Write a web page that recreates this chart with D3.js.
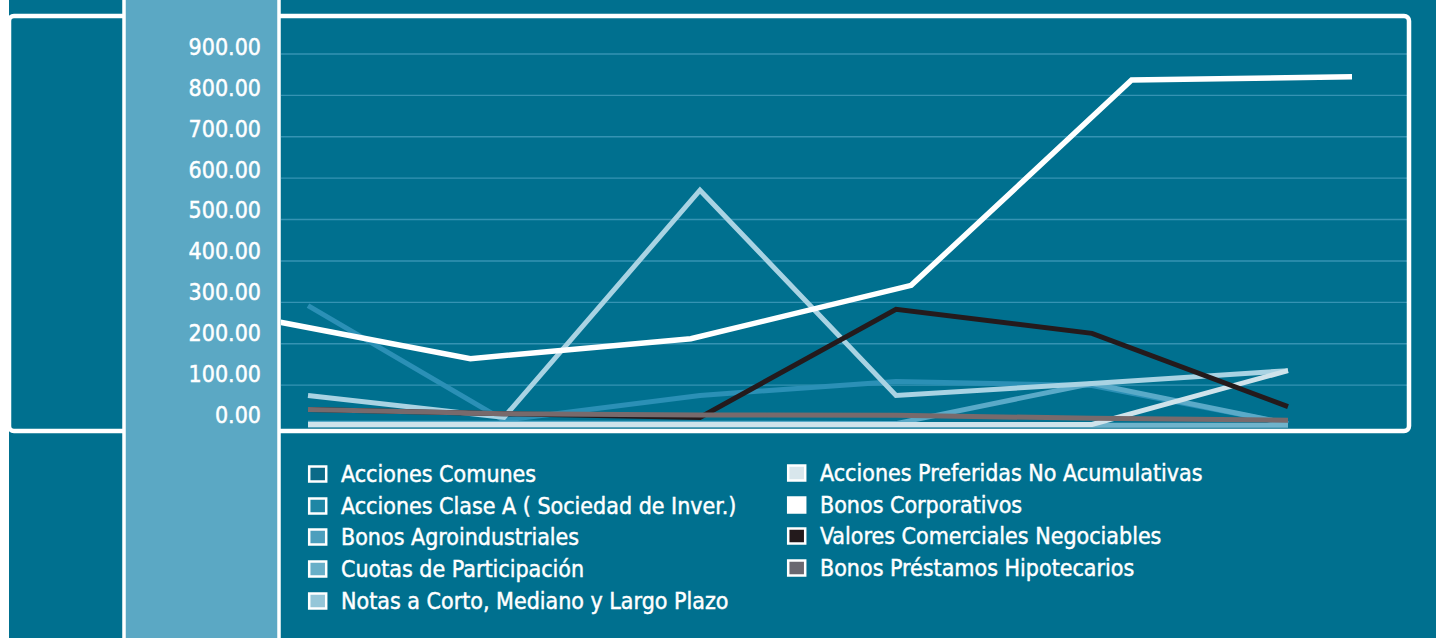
<!DOCTYPE html>
<html>
<head>
<meta charset="utf-8">
<script src="https://cdn.jsdelivr.net/npm/d3@7/dist/d3.min.js"></script>
<style>
  html, body { margin: 0; padding: 0; background: #ffffff; overflow: hidden; }
  text { font-family: "DejaVu Sans Condensed", "DejaVu Sans", sans-serif; fill: #ffffff; }
</style>
</head>
<body>
<svg id="chart" width="1436" height="638"></svg>
<script>
// ---------- DATA ----------
const periods = ["P1", "P2", "P3", "P4", "P5", "P6"];
const yTickValues = [0, 100, 200, 300, 400, 500, 600, 700, 800, 900];

const accionesComunes          = [2, 2, 2, 2, 2, 2];
const accionesClaseA           = [292, 15, 75, 109, 99, 7];
const bonosAgroindustriales    = [8, 8, 8, 7, 104, 7];
const cuotasParticipacion      = [3, 3, 3, 3, 3, 3];
const notasPlazo               = [75, 22, 571, 75, 104, 135];
const accionesPreferidas       = [5, 5, 5, 5, 5, 135];
const bonosCorporativos        = [266, 164, 212, 341, 837, 845];
const valoresComerciales       = [41, 31, 22, 283, 225, 48];
const bonosHipotecarios        = [41, 31, 28, 27, 20, 15];

const seriesNames = [
  "Acciones Comunes",
  "Acciones Clase A ( Sociedad de Inver.)",
  "Bonos Agroindustriales",
  "Cuotas de Participación",
  "Notas a Corto, Mediano y Largo Plazo",
  "Acciones Preferidas No Acumulativas",
  "Bonos Corporativos",
  "Valores Comerciales Negociables",
  "Bonos Préstamos Hipotecarios"
];
const seriesValues = [
  accionesComunes, accionesClaseA, bonosAgroindustriales, cuotasParticipacion,
  notasPlazo, accionesPreferidas, bonosCorporativos, valoresComerciales, bonosHipotecarios
];

// ---------- STYLE ----------
const lineColors = ["#0b6d8b", "#2b90b6", "#5aaac8", "#6fb3cb", "#a9d3e3", "#cfe3eb", "#ffffff", "#241a1c", "#786a6c"];
const boxColors  = ["#0a6a88", "#1f86a5", "#4c9fbd", "#68afc8", "#94c6d8", "#d8e6ec", "#ffffff", "#231a1c", "#6a6870"];
const BG = "#00708f";
const LIGHT = "#5ba8c4";

const W = 1436, H = 638;
const svg = d3.select("#chart");

// backgrounds
svg.append("rect").attr("x", 0).attr("y", 0).attr("width", W).attr("height", H).attr("fill", "#ffffff");
svg.append("rect").attr("x", 9).attr("y", 0).attr("width", W - 9).attr("height", H).attr("fill", BG);

// scales
const plot = { left: 281, right: 1407, top: 18, bottom: 429 };
const y = d3.scaleLinear().domain([0, 900]).range([426.5, 54]);
const yLabel = d3.scaleLinear().domain([0, 900]).range([415, 47]);
const x = d3.scalePoint().domain(periods).range([308, 1288]);
const xWide = d3.scalePoint().domain(periods).range([250, 1352]);

// gridlines
svg.append("g")
  .selectAll("line")
  .data(yTickValues.filter(d => d > 0))
  .join("line")
  .attr("x1", plot.left).attr("x2", plot.right)
  .attr("y1", d => y(d)).attr("y2", d => y(d))
  .attr("stroke", "#3593b3").attr("stroke-width", 1.4);

// clip
svg.append("clipPath").attr("id", "plotclip")
  .append("rect")
  .attr("x", plot.left).attr("y", plot.top)
  .attr("width", plot.right - plot.left).attr("height", plot.bottom - plot.top);

const linesG = svg.append("g").attr("clip-path", "url(#plotclip)");
seriesValues.forEach((vals, i) => {
  const xs = (i === 6) ? xWide : x;
  const line = d3.line()
    .x((d, j) => xs(periods[j]))
    .y(d => y(d));
  linesG.append("path")
    .datum(vals)
    .attr("d", line)
    .attr("fill", "none")
    .attr("stroke", lineColors[i])
    .attr("stroke-width", i === 6 ? 5.5 : 5)
    .attr("stroke-linejoin", "miter")
    .attr("stroke-linecap", "butt");
});

// frame
svg.append("rect")
  .attr("x", 9).attr("y", 16)
  .attr("width", 1400).attr("height", 415)
  .attr("rx", 5)
  .attr("fill", "none")
  .attr("stroke", "#ffffff")
  .attr("stroke-width", 4.5);
svg.append("rect").attr("x", 0).attr("y", 0).attr("width", 9).attr("height", H).attr("fill", "#ffffff");

// light column
svg.append("rect")
  .attr("x", 124).attr("y", -5)
  .attr("width", 155).attr("height", H + 10)
  .attr("fill", LIGHT)
  .attr("stroke", "#ffffff")
  .attr("stroke-width", 3.5);

// y axis labels
const yAxis = d3.axisLeft(yLabel)
  .tickValues(yTickValues)
  .tickFormat(d3.format(".2f"))
  .tickSize(0)
  .tickPadding(0);
const yg = svg.append("g").attr("transform", "translate(261,0)").call(yAxis);
yg.select(".domain").remove();
yg.selectAll("text")
  .attr("fill", "#ffffff")
  .attr("stroke", "#ffffff")
  .attr("stroke-width", 0.45)
  .attr("font-size", 23)
  .style("font-family", "\"DejaVu Sans Condensed\", \"DejaVu Sans\", sans-serif");

// legend
const legendPos = [
  [308, 474], [308, 506], [308, 537], [308, 569], [308, 601],
  [787, 473], [787, 505], [787, 536], [787, 568]
];
const lg = svg.append("g");
seriesNames.forEach((name, i) => {
  const [lx, ly] = legendPos[i];
  lg.append("rect")
    .attr("x", lx + 1.2).attr("y", ly - 7.5)
    .attr("width", 17).attr("height", 15)
    .attr("fill", boxColors[i])
    .attr("stroke", "#ffffff")
    .attr("stroke-width", 2.5);
  lg.append("text")
    .attr("x", lx + 33).attr("y", ly)
    .attr("dy", "0.36em")
    .attr("font-size", 23)
    .attr("stroke", "#ffffff")
    .attr("stroke-width", 0.45)
    .text(name);
});
</script>
</body>
</html>
